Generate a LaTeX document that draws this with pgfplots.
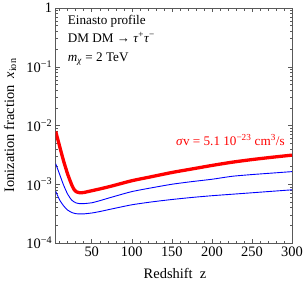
\documentclass[border=0pt]{standalone}
\usepackage{pgfplots}
\pgfplotsset{compat=1.18}
\usepackage{fontspec}
\setmainfont{Liberation Serif}
\definecolor{framegray}{gray}{0.35}
\begin{document}
\begin{tikzpicture}
\begin{axis}[
  scale only axis,
  width=236.3bp, height=235bp,
  xmin=5, xmax=300,
  ymode=log, ymin=1e-4, ymax=1,
  axis line style={framegray, line width=0.6pt},
  every tick/.style={framegray, line width=0.5pt},
  tick align=inside,
  major tick length=4.5bp,
  minor tick length=2.5bp,
  xtick={50,100,150,200,250,300},
  xticklabels={50,100,150,200,250,300},
  minor xtick={10,20,30,40,60,70,80,90,110,120,130,140,160,170,180,190,210,220,230,240,260,270,280,290},
  ytick={1e-4,1e-3,1e-2,1e-1,1},
  yticklabels={10\textsuperscript{−4},10\textsuperscript{−3},10\textsuperscript{−2},10\textsuperscript{−1},1},
  minor ytick={2e-4,3e-4,4e-4,5e-4,6e-4,7e-4,8e-4,9e-4,
               2e-3,3e-3,4e-3,5e-3,6e-3,7e-3,8e-3,9e-3,
               2e-2,3e-2,4e-2,5e-2,6e-2,7e-2,8e-2,9e-2,
               2e-1,3e-1,4e-1,5e-1,6e-1,7e-1,8e-1,9e-1},
  tick label style={font=\fontsize{14.5}{17}\selectfont},
  xlabel={Redshift\ \ z},
  ylabel={Ionization fraction\ \ \textit{x}\textsubscript{ion}},
  label style={font=\fontsize{14.5}{17}\selectfont},
  xlabel style={at={(rel axis cs:0.505,-0.128)}, anchor=center},
  ylabel style={at={(rel axis cs:-0.193,0.5)}, anchor=center, rotate=0},
]
\addplot[red, line width=3.3bp, smooth, tension=0.4] coordinates {
(5,7.94e-3) (10,4.37e-3) (15,2.45e-3) (20,1.48e-3) (25,9.77e-4) (28,8.13e-4)
(31,7.41e-4) (35,7.16e-4) (40,7.24e-4) (50,7.76e-4) (60,8.32e-4) (75,9.33e-4)
(100,1.148e-3) (125,1.349e-3) (150,1.585e-3) (175,1.82e-3) (200,2.09e-3)
(225,2.37e-3) (250,2.63e-3) (275,2.88e-3) (300,3.13e-3)
};
\addplot[blue, line width=0.9bp, smooth, tension=0.4] coordinates {
(5,2.239e-3) (10,1.462e-3) (15,9.55e-4) (20,6.76e-4) (25,5.37e-4) (30,4.84e-4)
(35,4.68e-4) (40,4.68e-4) (50,4.84e-4) (60,5.25e-4) (75,6.03e-4) (100,7.50e-4)
(125,8.71e-4) (150,1.0e-3) (175,1.109e-3) (200,1.216e-3) (225,1.365e-3)
(250,1.462e-3) (275,1.549e-3) (300,1.641e-3)
};
\addplot[blue, line width=0.9bp, smooth, tension=0.4] coordinates {
(5,7.59e-4) (10,5.37e-4) (15,4.27e-4) (20,3.63e-4) (25,3.31e-4) (30,3.16e-4)
(35,3.13e-4) (40,3.13e-4) (50,3.24e-4) (60,3.43e-4) (75,3.80e-4) (100,4.47e-4)
(125,5.01e-4) (150,5.50e-4) (175,5.96e-4) (200,6.38e-4) (225,6.76e-4)
(250,7.16e-4) (275,7.59e-4) (300,8.04e-4)
};
\node[anchor=base west, inner sep=0pt, font=\fontsize{13.2}{15}\selectfont] at (rel axis cs:0.051,0.929) {Einasto profile};
\node[anchor=base west, inner sep=0pt, font=\fontsize{13.2}{15}\selectfont] at (rel axis cs:0.051,0.855) {DM DM → \textit{τ}\textsuperscript{+}\textit{τ}\textsuperscript{−}};
\node[anchor=base west, inner sep=0pt, font=\fontsize{13.2}{15}\selectfont] at (rel axis cs:0.051,0.772) {\textit{m}\textsubscript{\textit{χ}} = 2 TeV};
\node[anchor=base west, inner sep=0pt, text=red, font=\fontsize{13.2}{15}\selectfont] at (rel axis cs:0.509,0.417) {\textit{σ}v = 5.1 10\textsuperscript{−23} cm\textsuperscript{3}/s};
\coordinate (sw) at (rel axis cs:0,0);
\end{axis}
\pgfresetboundingbox
\path[use as bounding box] (sw) ++(-55.7bp,-42bp) rectangle ++(303bp,285bp);
\end{tikzpicture}
\end{document}
